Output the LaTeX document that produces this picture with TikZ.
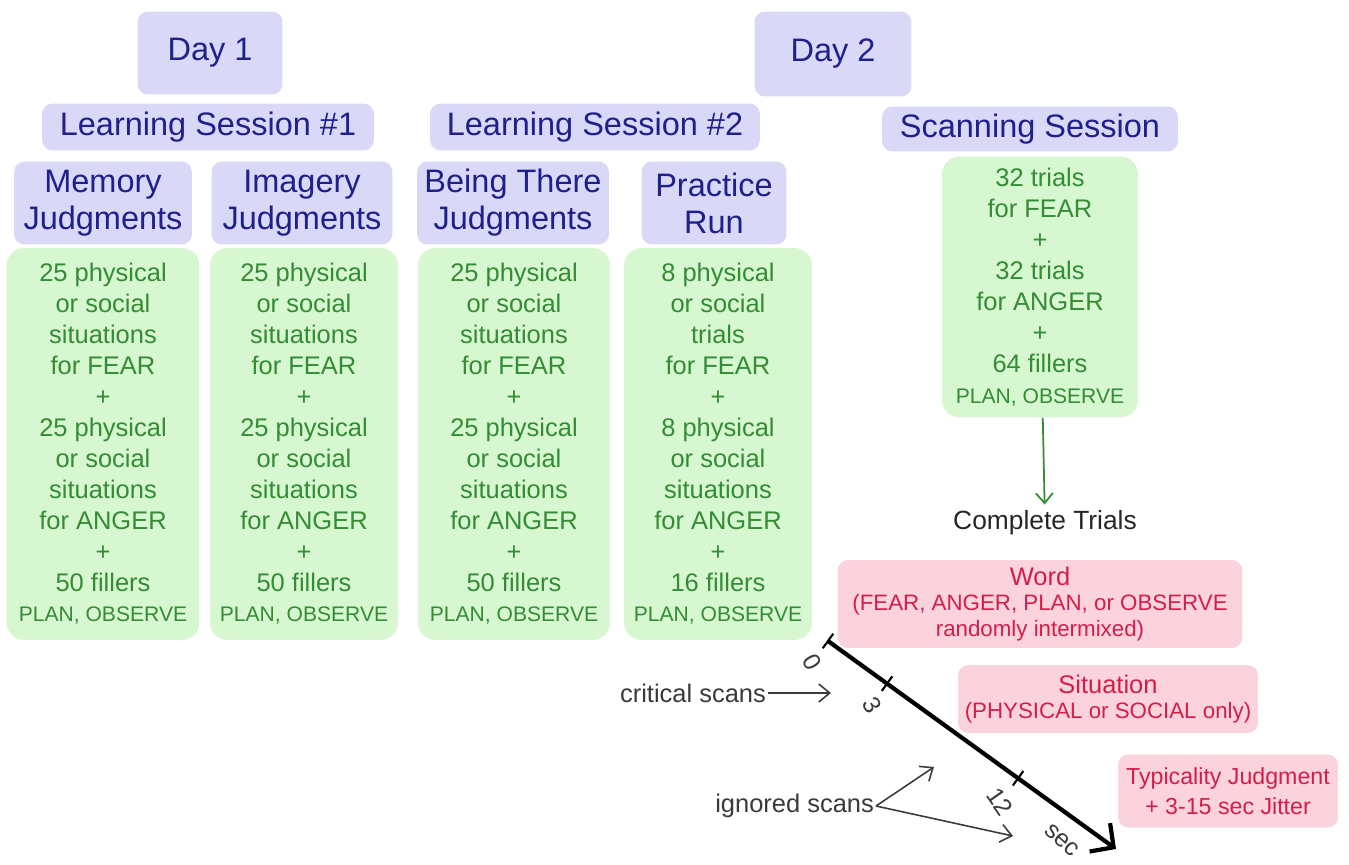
\documentclass[tikz,border=0pt]{standalone}
\usepackage{fontspec}
\setmainfont{Liberation Sans}
\usepackage{xcolor}
\usepackage{tikz}
\usetikzlibrary{arrows.meta,positioning}
\definecolor{dayFill}{HTML}{D9D9F7}
\definecolor{dayInk}{HTML}{20208C}
\definecolor{trialFill}{HTML}{D6F7D0}
\definecolor{trialInk}{HTML}{348C34}
\definecolor{eventFill}{HTML}{FAD3DC}
\definecolor{eventInk}{HTML}{D41E4A}
\definecolor{scanInk}{HTML}{3A3A3A}
\newcommand{\planobs}{{\fontsize{12}{14}\selectfont PLAN, OBSERVE}}

\begin{document}
\begin{tikzpicture}[
  x=0.02cm, y=-0.02cm,
  hdr/.style={fill=dayFill,text=dayInk,rounded corners=6pt,inner sep=0pt,
              font=\fontsize{18.5}{21}\selectfont,align=center},
  trial/.style={fill=trialFill,text=trialInk,rounded corners=10pt,inner sep=0pt,
                font=\fontsize{14.5}{17.6}\selectfont,align=center},
  event/.style={fill=eventFill,text=eventInk,rounded corners=6pt,inner sep=0pt,
                font=\fontsize{12.7}{14.5}\selectfont,align=center},
  note/.style={text=scanInk,font=\fontsize{14.5}{17}\selectfont,inner sep=1pt},
  ptr/.style={-{Straight Barb[length=2.2mm,width=3.6mm]},scanInk,line width=0.9pt},
  timeline/.style={-{Straight Barb[length=3.4mm,width=7mm]},line width=2.4pt},
  tmark/.style={sloped,draw,line width=1.2pt,minimum width=0pt,
                minimum height=0.36cm,inner sep=0pt},
  tlbl/.style={text=scanInk,font=\fontsize{14}{16}\selectfont,inner sep=0pt}
]
\useasboundingbox (0,0) rectangle (1349,865);

% Days and sessions
\node[hdr,minimum width=2.9cm,minimum height=1.66cm]  (day1) at (210,53)  {Day 1};
\node[hdr,minimum width=3.14cm,minimum height=1.7cm]  (day2) at (833,54)  {Day 2};
\node[hdr,minimum width=6.64cm,minimum height=0.94cm] (ls1)  at (208,127) {Learning Session \#1};
\node[hdr,minimum width=6.6cm,minimum height=0.94cm]  (ls2)  at (595,127) {Learning Session \#2};
\node[hdr,minimum width=5.92cm,minimum height=0.9cm]  (scan) at (1030,129) {Scanning Session};

% Judgment tasks
\node[hdr,minimum width=3.56cm,minimum height=1.66cm] (memJ) at (103,203) {Memory\\Judgments};
\node[hdr,minimum width=3.62cm,minimum height=1.66cm] (imgJ) at (302,203) {Imagery\\Judgments};
\node[hdr,minimum width=3.84cm,minimum height=1.66cm] (beJ)  at (513,203) {Being There\\Judgments};
\node[hdr,minimum width=2.9cm,minimum height=1.66cm]  (prJ)  at (714,203) {Practice\\Run};

% Trial counts
\node[trial,minimum width=3.86cm,minimum height=7.84cm] (memT) at (103,444)
  {25 physical\\or social\\situations\\for FEAR\\+\\25 physical\\or social\\situations\\for ANGER\\+\\50 fillers\\\planobs};
\node[trial,minimum width=3.76cm,minimum height=7.84cm] (imgT) at (304,444)
  {25 physical\\or social\\situations\\for FEAR\\+\\25 physical\\or social\\situations\\for ANGER\\+\\50 fillers\\\planobs};
\node[trial,minimum width=3.84cm,minimum height=7.84cm] (beT)  at (514,444)
  {25 physical\\or social\\situations\\for FEAR\\+\\25 physical\\or social\\situations\\for ANGER\\+\\50 fillers\\\planobs};
\node[trial,minimum width=3.76cm,minimum height=7.84cm] (prT)  at (718,444)
  {8 physical\\or social\\trials\\for FEAR\\+\\8 physical\\or social\\situations\\for ANGER\\+\\16 fillers\\\planobs};
\node[trial,minimum width=3.92cm,minimum height=5.22cm] (scanT) at (1040,287)
  {32 trials\\for FEAR\\+\\32 trials\\for ANGER\\+\\64 fillers\\\planobs};

% Trial structure
\node[font=\fontsize{15}{18}\selectfont,text=black!85] (trials) at (1045,523) {Complete Trials};
\draw[-{Straight Barb[length=2mm,width=3.4mm]},trialInk,line width=1pt] (scanT) -- (trials);

\node[event,minimum width=8.1cm,minimum height=1.76cm] (word) at (1040,604)
  {{\fontsize{14.5}{17}\selectfont Word}\\(FEAR, ANGER, PLAN, or OBSERVE\\randomly intermixed)};
\node[event,minimum width=6.0cm,minimum height=1.36cm] (situ) at (1108,699)
  {{\fontsize{14.5}{17}\selectfont Situation}\\(PHYSICAL or SOCIAL only)};
\node[event,minimum width=4.4cm,minimum height=1.46cm,font=\fontsize{13.2}{17}\selectfont] (typ) at (1228,791)
  {Typicality Judgment\\+ 3-15 sec Jitter};

% Time axis
\coordinate (t0) at (828,641);
\coordinate (t1) at (1116,849);
\draw[timeline] (t0) -- (t1)
  node[tmark,pos=0]     (k0)  {}
  node[tmark,pos=0.205] (k3)  {}
  node[tmark,pos=0.66]  (k12) {};
\node[tlbl,rotate=-60] (l0)  at (812,662)  {0};
\node[tlbl,rotate=-60] (l3)  at (872,705)  {3};
\node[tlbl,rotate=-55] (l12) at (1000,802) {12};
\node[tlbl,rotate=-42] (lsec) at (1062,840) {sec};

% Scan annotations
\node[note,anchor=east] (crit) at (768,693) {critical scans};
\coordinate (critEnd) at (831,693);
\draw[ptr] (crit) -- (critEnd);

\node[note,anchor=east] (ign) at (876,806) {ignored scans};
\coordinate (ignA) at (934,767);
\coordinate (ignB) at (1013,836);
\draw[ptr] (ign.east) -- (ignA);
\draw[ptr] (ign.east) -- (ignB);
\end{tikzpicture}
\end{document}
